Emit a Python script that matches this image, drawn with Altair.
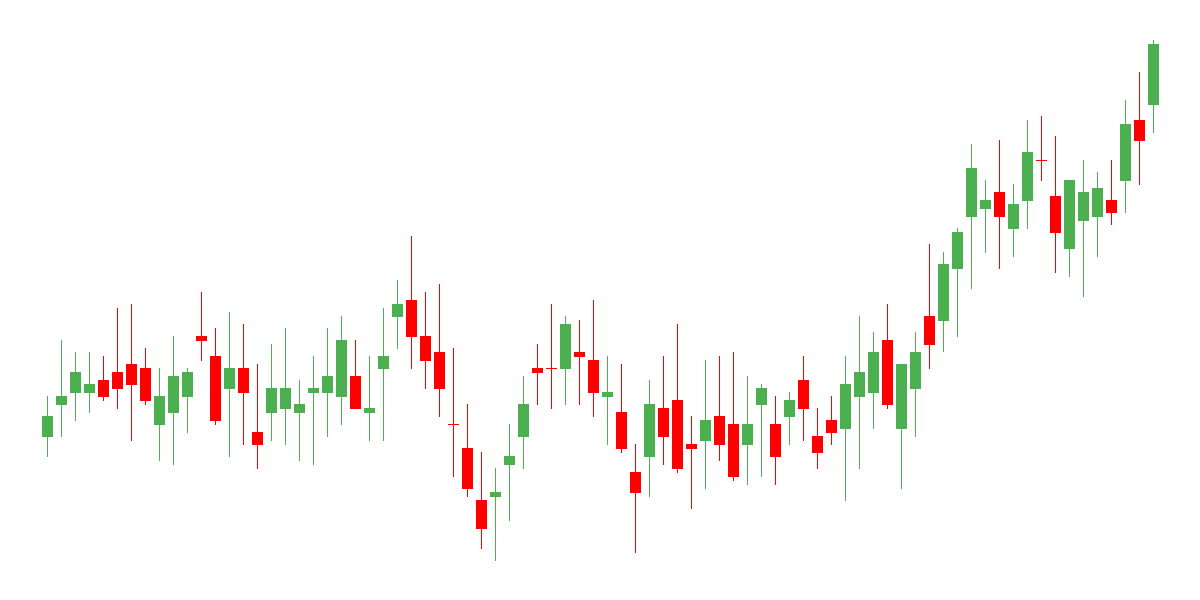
import altair as alt
import pandas as pd

opens = [163, 195, 207, 207, 220, 228, 236, 232, 175, 187,
         203, 264, 244, 211, 232, 168, 187, 191, 187, 207,
         207, 203, 224, 187, 231, 283, 300, 264, 248, 176,
         152, 100, 103, 135, 163, 232, 232, 231, 248, 240,
         203, 188, 128, 143, 192, 200, 156, 159, 184, 176,
         155, 195, 176, 183, 220, 164, 180, 171, 203, 207,
         260, 171, 211, 284, 279, 331, 383, 391, 408, 371,
         399, 440, 404, 351, 379, 383, 400, 419, 480, 495]
highs = [204, 260, 248, 248, 244, 292, 296, 252, 232, 264,
         232, 308, 272, 288, 276, 236, 256, 272, 220, 244,
         272, 284, 260, 244, 292, 320, 364, 308, 316, 252,
         196, 148, 132, 176, 224, 256, 296, 284, 280, 300,
         244, 236, 156, 220, 244, 276, 184, 240, 244, 248,
         224, 216, 204, 208, 244, 192, 204, 244, 284, 268,
         296, 236, 268, 356, 348, 372, 456, 420, 460, 416,
         480, 484, 464, 420, 440, 428, 440, 500, 528, 560]
lows = [143, 163, 179, 187, 199, 191, 159, 195, 139, 135,
        167, 239, 175, 143, 155, 131, 159, 155, 139, 135,
        163, 175, 191, 159, 159, 251, 231, 211, 183, 123,
        103, 51, 39, 79, 131, 195, 191, 195, 195, 183,
        155, 147, 47, 103, 135, 127, 91, 111, 139, 119,
        115, 123, 115, 155, 159, 131, 155, 99, 131, 171,
        191, 111, 163, 231, 248, 263, 311, 347, 331, 343,
        371, 419, 327, 323, 303, 343, 375, 387, 415, 467]
closes = [184, 204, 228, 216, 203, 211, 215, 199, 204, 224,
          228, 259, 179, 232, 207, 155, 212, 212, 196, 212,
          224, 260, 191, 192, 244, 296, 263, 239, 211, 175,
          111, 71, 108, 144, 196, 227, 231, 276, 243, 207,
          208, 151, 107, 196, 163, 131, 151, 180, 155, 123,
          176, 212, 143, 200, 191, 147, 167, 216, 228, 248,
          195, 236, 248, 255, 336, 368, 432, 400, 383, 396,
          448, 439, 367, 420, 408, 412, 387, 476, 459, 556]

df = pd.DataFrame({
    "i": list(range(len(opens))),
    "open": opens,
    "high": highs,
    "low": lows,
    "close": closes,
})

xscale = alt.Scale(domain=[-2.8214, 81.75], nice=False, zero=False, padding=0)
yscale = alt.Scale(domain=[8, 592], nice=False, zero=False, padding=0)
color = alt.condition("datum.close >= datum.open",
                      alt.value("#4caf50"), alt.value("#ff0000"))

base = alt.Chart(df)

wick = base.mark_rule(strokeWidth=1).encode(
    x=alt.X("i:Q", scale=xscale, axis=None),
    y=alt.Y("low:Q", scale=yscale, axis=None),
    y2="high:Q",
    color=color,
)

body = base.mark_bar(size=11).encode(
    x=alt.X("i:Q", scale=xscale, axis=None),
    y=alt.Y("open:Q", scale=yscale, axis=None),
    y2="close:Q",
    color=color,
)

chart = (wick + body).properties(
    width=1184, height=584, padding=0
).configure_view(stroke=None)

chart.save("out.html", embed_options={"renderer": "svg", "actions": False})
